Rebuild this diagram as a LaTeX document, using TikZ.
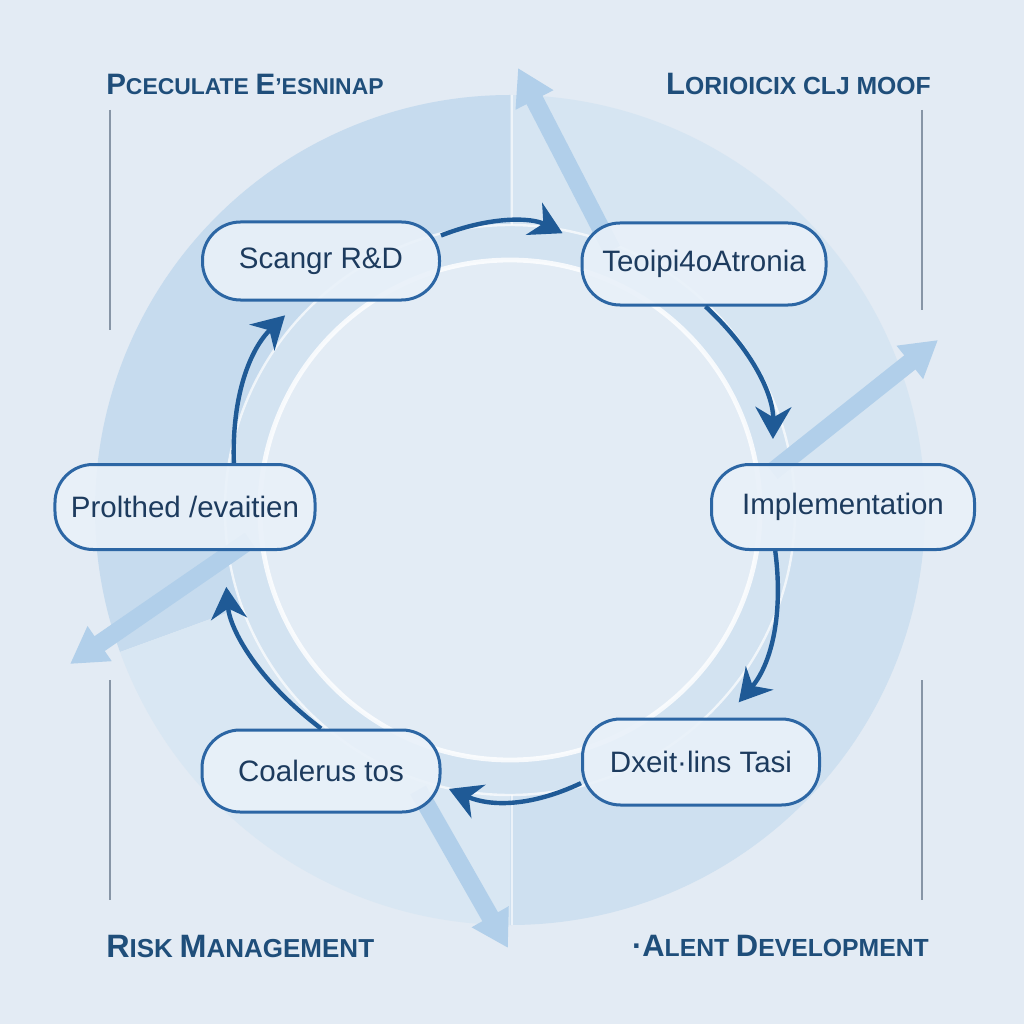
\documentclass[tikz,border=0pt]{standalone}
\usepackage{fontspec}
\setmainfont{Liberation Sans}
\usetikzlibrary{arrows.meta}
\definecolor{bgc}{HTML}{E3EBF4}
\definecolor{ringA}{HTML}{C6DBEE}
\definecolor{ringB}{HTML}{CEE0F0}
\definecolor{ringC}{HTML}{D6E5F2}
\definecolor{ringD}{HTML}{D9E7F3}
\definecolor{bandc}{HTML}{D3E3F1}
\definecolor{innerc}{HTML}{E3ECF5}
\definecolor{stripec}{HTML}{B1CFEA}
\definecolor{nodeb}{HTML}{2C66A4}
\definecolor{nodef}{HTML}{E9F1F9}
\definecolor{ntext}{HTML}{1D3B5E}
\definecolor{flowc}{HTML}{1F5A96}
\definecolor{headc}{HTML}{1F4E7A}
\definecolor{rulec}{HTML}{8795A6}
\newcommand\headcap[4]{{\fontsize{#1}{#1}\selectfont #3}{\fontsize{#2}{#2}\selectfont #4}}
\begin{document}
\begin{tikzpicture}[x=0.25mm,y=0.25mm,
  stage/.style n args={2}{draw=nodeb, line width=0.75mm, fill=nodef, fill opacity=0.9, text opacity=1,
    rounded corners=9.5mm, text=ntext, font=\fontsize{21}{25}\selectfont,
    minimum width=#1, minimum height=#2, inner sep=0pt},
  flow/.style={draw=flowc, line width=1.1mm, -{Stealth[length=8mm,width=9mm]}},
  stripe/.style={draw=stripec, line width=4.5mm, -{Triangle[length=9mm,width=10mm]}},
  heading/.style={text=headc, font=\bfseries\fontsize{17}{17}\selectfont, inner sep=0pt},
  rule/.style={draw=rulec, line width=0.55mm}]
\useasboundingbox (0,0) rectangle (1024,-1024);
\fill[bgc] (0,0) rectangle (1024,-1024);
% ring sectors
\fill[ringA] (510,-510) -- ++(90:415) arc[start angle=90,end angle=200,radius=415] -- cycle;
\fill[ringD] (510,-510) -- ++(200:415) arc[start angle=200,end angle=270,radius=415] -- cycle;
\fill[ringB] (510,-510) -- ++(270:415) arc[start angle=270,end angle=360,radius=415] -- cycle;
\fill[ringC] (510,-510) -- ++(0:415) arc[start angle=0,end angle=90,radius=415] -- cycle;
\draw[white, line width=0.4mm, opacity=0.6] (512,-95) -- (512,-280) (512,-740) -- (512,-925);
\fill[bandc] (510,-510) circle[radius=285];
\draw[white, line width=0.6mm, opacity=0.7] (510,-510) circle[radius=285];
\fill[innerc] (510,-510) circle[radius=250];
\draw[white, line width=1.2mm, opacity=0.8] (510,-510) circle[radius=250];
% light stripes
\draw[stripe] (612,-250) -- (518,-68);
\draw[stripe] (772,-472) -- (938,-340);
\draw[stripe] (250,-540) -- (70,-664);
\draw[stripe] (418,-790) -- (508,-948);
% stages
\node[stage={59.25mm}{19.5mm}] (n1) at (321,-261) {Scangr R\&D};
\node[stage={61mm}{20.5mm}] (n2) at (704,-264) {Teoipi4oAtronia};
\node[stage={65mm}{21.25mm}] (n3) at (185,-507) {Prolthed /evaitien};
\node[stage={65.75mm}{21.25mm}] (n4) at (843,-507) {Implementation};
\node[stage={59.5mm}{20.5mm}] (n5) at (321,-771) {Coalerus tos};
\node[stage={59.25mm}{21.5mm}] (n6) at (701,-762) {Dxeit·lins Tasi};
% flow arrows
\draw[flow, shorten >=5mm] (n1.12) to[bend left=24] (n2.170);
\draw[flow, shorten >=6mm] (n2.-88) to[bend left=24] (n4.148);
\draw[flow, shorten >=5mm] (n4.213) to[bend left=24] (n6.61);
\draw[flow, shorten >=2mm] (n6.190) to[bend left=24] (n5.-7);
\draw[flow, shorten >=9mm] (n5.north) to[bend left=24] (n3.-49);
\draw[flow, shorten >=5mm] (n3.42) to[bend left=24] (n1.242);
% headings
\node[heading, anchor=west] (h1) at (106,-84) {\headcap{21}{16.3}{P}{CECULATE} \headcap{21}{16.3}{E}{’ESNINAP}};
\node[heading, anchor=east] (h2) at (931,-84) {\headcap{22}{17.6}{L}{ORIOICIX} \headcap{22}{17.6}{}{CLJ} \headcap{22}{17.6}{}{MOOF}};
\node[heading, anchor=west] (h3) at (106,-946) {\headcap{23}{18.5}{R}{ISK} \headcap{23}{18.5}{M}{ANAGEMENT}};
\node[heading, anchor=east] (h4) at (929,-946) {\headcap{22}{17.6}{·A}{LENT} \headcap{22}{17.6}{D}{EVELOPMENT}};
% side rules
\draw[rule] (110,-110) -- (110,-330);
\draw[rule] (110,-680) -- (110,-900);
\draw[rule] (922,-110) -- (922,-310);
\draw[rule] (922,-680) -- (922,-900);
\end{tikzpicture}
\end{document}
